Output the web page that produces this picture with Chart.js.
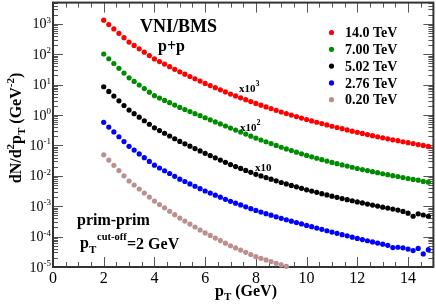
<!DOCTYPE html>
<html>
<head>
<meta charset="utf-8">
<script src="https://cdn.jsdelivr.net/npm/chart.js@4.4.1/dist/chart.umd.min.js"></script>
<style>
  html, body { margin: 0; padding: 0; background: #fff; }
  canvas { display: block; }
</style>
</head>
<body>
<canvas id="chartCanvas" width="436" height="305"></canvas>
<script>
// pT bins (GeV)
const pT = [2.0, 2.2, 2.4, 2.6, 2.8, 3.0, 3.2, 3.4, 3.6, 3.8, 4.0, 4.2, 4.4, 4.6, 4.8,
  5.0, 5.2, 5.4, 5.6, 5.8, 6.0, 6.2, 6.4, 6.6, 6.8, 7.0, 7.2, 7.4, 7.6, 7.8,
  8.0, 8.2, 8.4, 8.6, 8.8, 9.0, 9.2, 9.4, 9.6, 9.8, 10.0, 10.2, 10.4, 10.6, 10.8,
  11.0, 11.2, 11.4, 11.6, 11.8, 12.0, 12.2, 12.4, 12.6, 12.8, 13.0, 13.2, 13.4, 13.6, 13.8,
  14.0, 14.2, 14.4, 14.6, 14.8];

// dN/d2pT, already multiplied by the factors written on the plot
const s140 = [1321, 948, 681, 489, 351, 252, 195, 151, 117, 90.3, 70.0, 57.5, 47.3, 38.9, 32.0,
  26.3, 22.1, 18.5, 15.6, 13.1, 11.0, 9.33, 7.94, 6.76, 5.75, 4.90, 4.25, 3.68, 3.19, 2.77,
  2.40, 2.11, 1.85, 1.63, 1.43, 1.26, 1.12, 1.00, 0.891, 0.794, 0.708, 0.640, 0.578, 0.522, 0.472,
  0.427, 0.389, 0.355, 0.324, 0.295, 0.269, 0.248, 0.228, 0.210, 0.193, 0.178, 0.165, 0.153, 0.143, 0.132,
  0.123, 0.115, 0.107, 0.100, 0.093];
const s700 = [102, 71.1, 49.5, 34.5, 24.0, 16.7, 12.8, 9.73, 7.43, 5.66, 4.32, 3.61, 3.03, 2.54, 2.12,
  1.78, 1.52, 1.30, 1.11, 0.951, 0.813, 0.695, 0.594, 0.508, 0.435, 0.372, 0.319, 0.274, 0.236, 0.202,
  0.174, 0.151, 0.132, 0.115, 0.100, 0.0871, 0.0769, 0.0679, 0.0600, 0.0530, 0.0468, 0.0421, 0.0378, 0.0340, 0.0306,
  0.0275, 0.0251, 0.0229, 0.0209, 0.0191, 0.0174, 0.0161, 0.0149, 0.0137, 0.0127, 0.0117, 0.0109, 0.0101, 0.00942, 0.00875,
  0.00813, 0.00759, 0.00720, 0.00655, 0.00617];
const s502 = [8.51, 5.97, 4.19, 2.94, 2.06, 1.45, 1.11, 0.847, 0.649, 0.497, 0.380, 0.309, 0.251, 0.204, 0.166,
  0.135, 0.113, 0.0942, 0.0787, 0.0658, 0.0550, 0.0463, 0.0391, 0.0330, 0.0278, 0.0234, 0.0202, 0.0175, 0.0151, 0.0130,
  0.0112, 0.00991, 0.00875, 0.00773, 0.00682, 0.00603, 0.00540, 0.00483, 0.00433, 0.00387, 0.00347, 0.00315, 0.00286, 0.00259, 0.00236,
  0.00214, 0.00196, 0.00179, 0.00164, 0.00151, 0.00138, 0.00128, 0.00118, 0.00109, 0.00101, 0.000933, 0.000867, 0.000805, 0.000748, 0.000676,
  0.000589, 0.000468, 0.000562, 0.000513, 0.000468];
const s276 = [0.575, 0.400, 0.278, 0.193, 0.134, 0.0933, 0.0702, 0.0527, 0.0396, 0.0298, 0.0224, 0.0181, 0.0147, 0.0119, 0.00959,
  0.00776, 0.00649, 0.00542, 0.00453, 0.00378, 0.00316, 0.00270, 0.00231, 0.00198, 0.00169, 0.00145, 0.00126, 0.00110, 0.000955, 0.000832,
  0.000724, 0.000643, 0.000570, 0.000506, 0.000449, 0.000398, 0.000358, 0.000322, 0.000290, 0.000261, 0.000234, 0.000212, 0.000191, 0.000173, 0.000156,
  0.000141, 0.000128, 0.000116, 0.000106, 0.0000959, 0.0000871, 0.0000798, 0.0000731, 0.0000670, 0.0000614, 0.0000562, 0.0000518, 0.0000437, 0.0000447, 0.0000427,
  0.0000389, 0.0000347, 0.0000407, 0.0000269, 0.0000372];
const s020 = [0.0490, 0.0330, 0.0222, 0.0149, 0.0100, 0.00676, 0.00499, 0.00368, 0.00272, 0.00200, 0.00148, 0.00114, 0.000883, 0.000682, 0.000527,
  0.000407, 0.000325, 0.000259, 0.000207, 0.000165, 0.000132, 0.000109, 0.0000895, 0.0000738, 0.0000608, 0.0000501, 0.0000425, 0.0000360, 0.0000305, 0.0000258,
  0.0000219, 0.0000193, 0.0000171, 0.0000151, 0.0000133, 0.0000117, 0.0000105];

const seriesLabels = ['14.0 TeV', '7.00 TeV', '5.02 TeV', '2.76 TeV', '0.20 TeV'];
const seriesColors = ['#ff0000', '#008c00', '#000000', '#0000ff', '#bc8f8f'];
const seriesValues = [s140, s700, s502, s276, s020];

const xTicks = [0, 2, 4, 6, 8, 10, 12, 14];
const yTickExps = [-5, -4, -3, -2, -1, 0, 1, 2, 3];

const FONT = '"Liberation Serif", "Times New Roman", serif';

function setFont(c, size, bold) {
  c.font = (bold ? 'bold ' : '') + size + 'px ' + FONT;
}

// parts: [text, size, bold, dy]
function partsWidth(c, parts) {
  let w = 0;
  parts.forEach(p => { setFont(c, p[1], p[2]); w += c.measureText(p[0]).width; });
  return w;
}

function drawParts(c, x, y, parts) {
  let cx = x;
  parts.forEach(p => {
    setFont(c, p[1], p[2]);
    c.fillText(p[0], cx, y + p[3]);
    cx += c.measureText(p[0]).width;
  });
}

function line(c, x1, y1, x2, y2) {
  c.beginPath();
  c.moveTo(x1, y1);
  c.lineTo(x2, y2);
  c.stroke();
}

const framePlugin = {
  id: 'frame',
  beforeDatasetsDraw(chart) {
    const c = chart.ctx;
    const { left, right, top, bottom } = chart.chartArea;
    const xs = chart.scales.x, ys = chart.scales.y;
    c.save();
    c.strokeStyle = '#555';
    c.lineWidth = 1;
    for (let v = 0; v <= 15; v += 0.5) {
      const px = Math.round(xs.getPixelForValue(v)) + 0.5;
      const len = xTicks.includes(v) ? 10 : 5;
      line(c, px, bottom, px, bottom - len);
      line(c, px, top, px, top + len);
    }
    yTickExps.forEach(e => {
      for (let m = 1; m <= 9; m++) {
        const v = m * Math.pow(10, e);
        if (v < ys.min * 0.999 || v > ys.max) continue;
        const py = Math.round(ys.getPixelForValue(v)) + 0.5;
        const len = m === 1 ? 10 : 5;
        line(c, left, py, left + len, py);
        line(c, right, py, right - len, py);
      }
    });
    c.strokeStyle = '#333';
    c.lineWidth = 2;
    c.strokeRect(left, top, right - left, bottom - top);
    c.restore();
  },
  afterDraw(chart) {
    const c = chart.ctx;
    const { bottom } = chart.chartArea;
    const xs = chart.scales.x, ys = chart.scales.y;
    c.save();
    c.fillStyle = '#000';
    c.textBaseline = 'alphabetic';

    // x tick labels
    c.textAlign = 'center';
    setFont(c, 16, false);
    xTicks.forEach(v => c.fillText(String(v), xs.getPixelForValue(v), bottom + 16));

    // y tick labels 10^n
    c.textAlign = 'left';
    yTickExps.forEach(e => {
      const py = ys.getPixelForValue(Math.pow(10, e));
      const parts = [['10', 14, false, 4.5], [String(e), 9, false, -1]];
      const w = partsWidth(c, parts);
      drawParts(c, 51 - w, py, parts);
    });

    // axis titles
    drawParts(c, 215, 296, [['p', 16, true, 0], ['T', 11, true, 4], [' (GeV)', 16, true, 0]]);
    const yTitle = [['dN/d', 16, true, 0], ['2', 11, true, -7], ['p', 16, true, 0], ['T', 11, true, 4],
      [' (GeV', 16, true, 0], ['-2', 11, true, -7], [')', 16, true, 0]];
    c.save();
    c.translate(21, 128);
    c.rotate(-Math.PI / 2);
    drawParts(c, -partsWidth(c, yTitle) / 2, 0, yTitle);
    c.restore();

    // annotations
    drawParts(c, 140, 32, [['VNI/BMS', 18, true, 0]]);
    drawParts(c, 158, 51, [['p+p', 16, true, 0]]);
    drawParts(c, 239, 92, [['x10', 11, true, 0], ['3', 8, true, -6]]);
    drawParts(c, 240, 131, [['x10', 11, true, 0], ['2', 8, true, -6]]);
    drawParts(c, 255, 171, [['x10', 11, true, 0]]);
    drawParts(c, 77, 225, [['prim-prim', 16, true, 0]]);
    drawParts(c, 80, 248, [['p', 16, true, 0], ['T', 11, true, 5]]);
    drawParts(c, 97, 240, [['cut-off', 10.5, true, 0]]);
    drawParts(c, 127, 249, [['=2 GeV', 16, true, 0]]);

    // legend
    c.textBaseline = 'middle';
    chart.data.datasets.forEach((ds, i) => {
      const y = 32.5 + i * 16.8;
      c.fillStyle = ds.backgroundColor;
      c.beginPath();
      c.arc(331.5, y, 2.6, 0, Math.PI * 2);
      c.fill();
      c.fillStyle = '#000';
      setFont(c, 14, true);
      c.fillText(ds.label, 345, y + 1);
    });
    c.restore();
  }
};

new Chart(document.getElementById('chartCanvas').getContext('2d'), {
  type: 'scatter',
  data: {
    datasets: seriesValues.map((vals, i) => ({
      label: seriesLabels[i],
      data: vals.map((v, j) => ({ x: pT[j], y: v })),
      backgroundColor: seriesColors[i],
      borderColor: seriesColors[i],
      borderWidth: 0,
      pointRadius: 2.6,
      pointHoverRadius: 2.6,
      showLine: false,
      clip: false
    }))
  },
  options: {
    responsive: false,
    animation: false,
    devicePixelRatio: 1,
    layout: { padding: { left: 53, right: 2, top: 1, bottom: 38 } },
    plugins: { legend: { display: false }, tooltip: { enabled: false } },
    scales: {
      x: { type: 'linear', min: 0, max: 15, display: false },
      y: { type: 'logarithmic', min: 1e-5, max: 5000, display: false }
    }
  },
  plugins: [framePlugin]
});
</script>
</body>
</html>
